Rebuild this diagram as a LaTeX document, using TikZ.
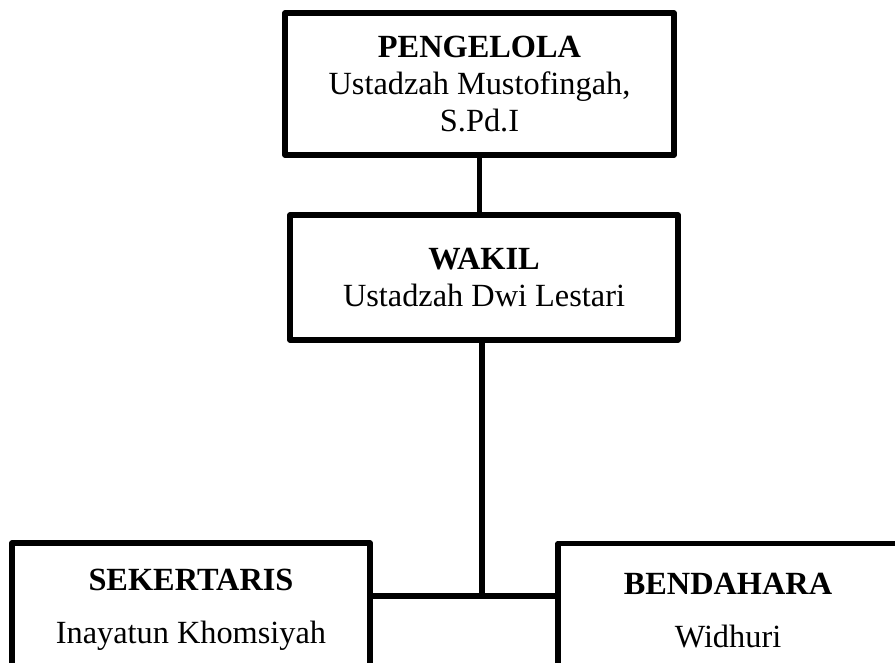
\documentclass[tikz,border=0pt]{standalone}
\usepackage{fontspec}
\setmainfont{Liberation Serif}

\begin{document}
\begin{tikzpicture}[
  x=0.025cm,
  y=-0.025cm,
  unitbox/.style={
    rectangle,
    draw,
    line width=3.8pt,
    line join=round,
    align=center,
    inner sep=0pt,
    font=\fontsize{23}{26}\selectfont
  },
  link/.style={
    line width=3.8pt
  }
]

\path[use as bounding box] (0,0) rectangle (895,663);

\node[unitbox, minimum width=9.725cm, minimum height=3.55cm] (pengelola) at (479.5,84)
  {\textbf{PENGELOLA}\\Ustadzah Mustofingah,\\S.Pd.I};
\node[unitbox, minimum width=9.7cm, minimum height=3.125cm] (wakil) at (484,277.5)
  {\textbf{WAKIL}\\Ustadzah Dwi Lestari};
\node[unitbox, minimum width=8.95cm, minimum height=3.35cm] (sekertaris) at (191,610)
  {\textbf{SEKERTARIS}\\[12pt]Inayatun Khomsiyah};
\node[unitbox, minimum width=8.5cm, minimum height=3.35cm] (bendahara) at (728,610.5)
  {\textbf{BENDAHARA}\\[12pt]Widhuri};

\coordinate (junction) at (482,596);

\draw[link] (pengelola.south) -- (pengelola.south |- wakil.north);
\draw[link] (wakil.south -| junction) -- ([yshift=-1.5pt]junction);
\draw[link] (junction -| sekertaris.east) -- (junction -| bendahara.west);

\end{tikzpicture}
\end{document}
